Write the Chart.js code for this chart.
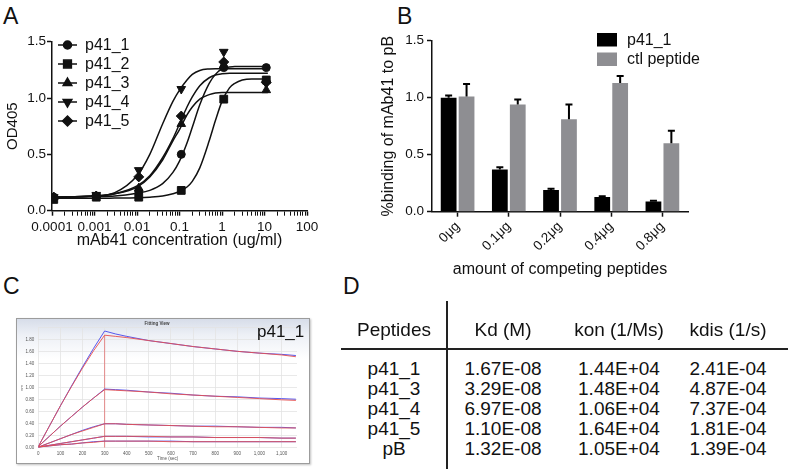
<!DOCTYPE html>
<html>
<head>
<meta charset="utf-8">
<script src="https://cdn.jsdelivr.net/npm/chart.js@4.4.0/dist/chart.umd.min.js"></script>
<style>
  html, body { margin: 0; padding: 0; background: #fff; }
  body { width: 791px; height: 470px; position: relative; overflow: hidden;
         font-family: 'Liberation Sans', Arial, Helvetica, sans-serif; color: #111; }
  canvas { position: absolute; }
  .panel { position: absolute; font-size: 23px; line-height: 23px; }
  #boxC { position: absolute; left: 16px; top: 318px; width: 292px; height: 144px;
          border: 1px solid #9c9c9c;
          background: linear-gradient(to bottom, #d7dde9 0px, #edf0f6 16px, #ffffff 40px);
          box-shadow: 1px 1px 2px rgba(0,0,0,0.25); }
  #tagC { position: absolute; left: 257px; top: 322px; font-size: 17px; line-height: 20px; }
  .cell { position: absolute; font-size: 19px; line-height: 20px; white-space: nowrap;
          transform: translate(-50%, -50%); }
  .rule { position: absolute; background: #222; }
</style>
</head>
<body>
<div class="panel" style="left:3px;top:5px">A</div>
<div class="panel" style="left:397px;top:5px">B</div>
<div class="panel" style="left:3px;top:275px">C</div>
<div class="panel" style="left:343px;top:275px">D</div>

<canvas id="chartA" width="340" height="260" style="left:0;top:0"></canvas>
<canvas id="chartB" width="334" height="290" style="left:376px;top:0"></canvas>
<div id="boxC"><canvas id="chartC" width="292" height="144" style="left:0;top:0"></canvas></div>
<div id="tagC">p41_1</div>
<div id="tableD"></div>

<script>
// ---------- panel A: ELISA titration ----------
const aConc = [0.00011, 0.0011, 0.011, 0.11, 1.1, 11];
const aNames = ['p41_1', 'p41_2', 'p41_3', 'p41_4', 'p41_5'];
const aPts1 = [0.12, 0.13, 0.17, 0.50, 1.27, 1.27];
const aPts2 = [0.10, 0.12, 0.12, 0.18, 0.99, 1.16];
const aPts3 = [0.12, 0.13, 0.20, 0.77, 1.29, 1.07];
const aPts4 = [0.12, 0.14, 0.36, 1.08, 1.41, 1.13];
const aPts5 = [0.12, 0.13, 0.30, 0.84, 1.32, 1.14];
// fitted curves
const aFitX = [0.0001, 0.001, 0.003, 0.01, 0.02, 0.04, 0.07, 0.1, 0.15, 0.2, 0.3, 0.5, 0.7, 1, 1.5, 2, 3, 5, 12];
const aFit1 = [0.12, 0.125, 0.13, 0.155, 0.18, 0.24, 0.34, 0.44, 0.60, 0.74, 0.94, 1.13, 1.21, 1.26, 1.275, 1.28, 1.28, 1.28, 1.28];
const aFit2 = [0.11, 0.11, 0.112, 0.115, 0.12, 0.13, 0.15, 0.17, 0.21, 0.26, 0.38, 0.62, 0.80, 0.97, 1.09, 1.13, 1.16, 1.17, 1.17];
const aFit3 = [0.12, 0.13, 0.15, 0.21, 0.30, 0.45, 0.62, 0.72, 0.85, 0.92, 0.99, 1.03, 1.045, 1.05, 1.05, 1.05, 1.05, 1.05, 1.05];
const aFit4 = [0.12, 0.13, 0.16, 0.31, 0.50, 0.77, 0.97, 1.07, 1.16, 1.21, 1.245, 1.258, 1.26, 1.26, 1.26, 1.26, 1.26, 1.26, 1.26];
const aFit5 = [0.12, 0.13, 0.15, 0.22, 0.31, 0.47, 0.64, 0.77, 0.92, 1.01, 1.11, 1.18, 1.205, 1.215, 1.22, 1.22, 1.22, 1.22, 1.22];
const aXMajor = [0.0001, 0.001, 0.01, 0.1, 1, 10, 100];
const aXLabels = ['0.0001', '0.001', '0.01', '0.1', '1', '10', '100'];
const aYLabels = ['0.0', '0.5', '1.0', '1.5'];

// ---------- panel B: competition ----------
const bCats = ['0\u03bcg', '0.1\u03bcg', '0.2\u03bcg', '0.4\u03bcg', '0.8\u03bcg'];
const bP41 = [1.00, 0.37, 0.19, 0.13, 0.09];
const bP41Err = [0.02, 0.02, 0.012, 0.006, 0.006];
const bCtl = [1.01, 0.94, 0.81, 1.13, 0.60];
const bCtlErr = [0.11, 0.045, 0.13, 0.06, 0.11];
const bYLabels = ['0.0', '0.5', '1.0', '1.5'];

// ---------- panel C: sensorgram ----------
const cTime = [0, 50, 100, 150, 200, 250, 300, 350, 400, 500, 600, 700, 800, 900, 1000, 1100, 1165];
const cData1 = [0.02, 0.36, 0.70, 1.03, 1.35, 1.66, 1.95, 1.90, 1.86, 1.79, 1.74, 1.69, 1.65, 1.61, 1.58, 1.56, 1.54];
const cFit1  = [0.02, 0.36, 0.70, 1.02, 1.33, 1.62, 1.88, 1.86, 1.84, 1.79, 1.74, 1.69, 1.65, 1.61, 1.58, 1.55, 1.52];
const cData2 = [0.02, 0.19, 0.36, 0.52, 0.68, 0.83, 0.98, 0.97, 0.96, 0.93, 0.91, 0.88, 0.86, 0.85, 0.83, 0.82, 0.81];
const cFit2  = [0.02, 0.19, 0.36, 0.52, 0.68, 0.83, 0.97, 0.96, 0.95, 0.93, 0.90, 0.88, 0.86, 0.84, 0.82, 0.80, 0.79];
const cData3 = [0.01, 0.08, 0.15, 0.22, 0.29, 0.35, 0.40, 0.40, 0.39, 0.38, 0.37, 0.36, 0.36, 0.35, 0.34, 0.34, 0.33];
const cFit3  = [0.01, 0.08, 0.15, 0.22, 0.28, 0.34, 0.40, 0.40, 0.39, 0.38, 0.37, 0.36, 0.35, 0.35, 0.34, 0.33, 0.33];
const cData4 = [0.01, 0.04, 0.07, 0.10, 0.13, 0.16, 0.19, 0.19, 0.19, 0.18, 0.18, 0.18, 0.17, 0.17, 0.17, 0.16, 0.16];
const cFit4  = [0.01, 0.04, 0.07, 0.10, 0.13, 0.16, 0.19, 0.19, 0.19, 0.19, 0.18, 0.18, 0.17, 0.17, 0.17, 0.16, 0.16];
const cData5 = [0.01, 0.03, 0.05, 0.06, 0.08, 0.10, 0.11, 0.11, 0.11, 0.11, 0.11, 0.10, 0.10, 0.10, 0.10, 0.10, 0.10];
const cFit5  = [0.01, 0.03, 0.05, 0.06, 0.08, 0.09, 0.11, 0.11, 0.11, 0.11, 0.10, 0.10, 0.10, 0.10, 0.10, 0.10, 0.10];
const cXTicks = [0, 100, 200, 300, 400, 500, 600, 700, 800, 900, 1000, 1100];
const cXLabels = ['0', '100', '200', '300', '400', '500', '600', '700', '800', '900', '1,000', '1,100'];
const cYTicks = [0, 0.2, 0.4, 0.6, 0.8, 1.0, 1.2, 1.4, 1.6, 1.8, 2.0];
const cYLabels = ['0.00', '0.20', '0.40', '0.60', '0.80', '1.00', '1.20', '1.40', '1.60', '1.80', ''];

// ---------- panel D: kinetics table ----------
const dHeaders = ['Peptides', 'Kd (M)', 'kon (1/Ms)', 'kdis (1/s)'];
const dPeptides = ['p41_1', 'p41_3', 'p41_4', 'p41_5', 'pB'];
const dKd = ['1.67E-08', '3.29E-08', '6.97E-08', '1.10E-08', '1.32E-08'];
const dKon = ['1.44E+04', '1.48E+04', '1.06E+04', '1.64E+04', '1.05E+04'];
const dKdis = ['2.41E-04', '4.87E-04', '7.37E-04', '1.81E-04', '1.39E-04'];

Chart.defaults.font.family = "'Liberation Sans', Arial, Helvetica, sans-serif";
Chart.defaults.color = '#111';
Chart.defaults.animation = false;
Chart.defaults.responsive = false;
Chart.defaults.plugins.legend.display = false;
Chart.defaults.plugins.tooltip.enabled = false;

const ink = '#111';
const fontStr = size => size + "px 'Liberation Sans', Arial, sans-serif";

// ===== A =====
const aStyles = [
  { style: 'circle', r: 4, rot: 0 },
  { style: 'rect', r: 5.5, rot: 0 },
  { style: 'triangle', r: 5, rot: 0 },
  { style: 'triangle', r: 5, rot: 180 },
  { style: 'rectRot', r: 5, rot: 0 }
];
const aPts = [aPts1, aPts2, aPts3, aPts4, aPts5];
const aFits = [aFit1, aFit2, aFit3, aFit4, aFit5];

const aMinor = [];
aXMajor.slice(0, -1).forEach(p => { for (let m = 2; m <= 9; m++) aMinor.push(p * m); });
const aAllTicks = aXMajor.concat(aMinor).sort((a, b) => a - b);

const aDatasets = [];
aFits.forEach(f => aDatasets.push({
  data: aFitX.map((x, i) => ({ x: x, y: f[i] })),
  borderColor: ink, borderWidth: 1.5, pointRadius: 0,
  cubicInterpolationMode: 'monotone', fill: false
}));
aPts.forEach((p, k) => aDatasets.push({
  data: aConc.map((x, i) => ({ x: x, y: p[i] })),
  showLine: false, pointStyle: aStyles[k].style, pointRadius: aStyles[k].r,
  pointRotation: aStyles[k].rot, pointBackgroundColor: ink, pointBorderColor: ink,
  pointBorderWidth: 1
}));

const legendA = {
  id: 'legendA',
  afterDraw(chart) {
    const ctx = chart.ctx;
    const left = chart.chartArea.left + 6;
    ctx.save();
    ctx.font = fontStr(16);
    ctx.textBaseline = 'middle';
    aNames.forEach((name, i) => {
      const y = 45 + i * 19;
      ctx.strokeStyle = ink; ctx.fillStyle = ink; ctx.lineWidth = 1.5;
      ctx.beginPath(); ctx.moveTo(left, y); ctx.lineTo(left + 19, y); ctx.stroke();
      Chart.helpers.drawPoint(ctx, { pointStyle: aStyles[i].style, radius: aStyles[i].r,
        rotation: aStyles[i].rot, borderWidth: 1 }, left + 9.5, y);
      ctx.fillText(name, left + 27, y + 1);
    });
    ctx.restore();
  }
};

new Chart(document.getElementById('chartA'), {
  type: 'line',
  data: { datasets: aDatasets },
  options: {
    layout: { padding: { left: 0, top: 41.7, right: 33, bottom: 9.4 } },
    scales: {
      x: {
        type: 'logarithmic', min: 0.0001, max: 100,
        afterFit: s => { s.height = 39.9; },
        afterBuildTicks: s => { s.ticks = aAllTicks.map(v => ({ value: v, major: aXMajor.includes(v) })); },
        ticks: {
          autoSkip: false, maxRotation: 0, minRotation: 0, padding: 3, color: ink,
          font: { size: 13.5 },
          callback: v => { const i = aXMajor.indexOf(v); return i >= 0 ? aXLabels[i] : ''; }
        },
        grid: { display: true, drawOnChartArea: false, drawTicks: true, tickLength: 5,
                tickColor: ink, tickWidth: c => (c.tick && c.tick.major) ? 1.5 : 1 },
        border: { display: true, color: ink, width: 1.5 },
        title: { display: true, text: 'mAb41 concentration (ug/ml)', font: { size: 16 }, padding: 0, color: ink }
      },
      y: {
        min: 0, max: 1.5,
        afterFit: s => { s.width = 52; },
        ticks: { stepSize: 0.5, padding: 1, color: ink, font: { size: 13.5 }, callback: (v, i) => aYLabels[i] },
        grid: { display: true, drawOnChartArea: false, drawTicks: true, tickLength: 5, tickColor: ink, tickWidth: 1.5 },
        border: { display: true, color: ink, width: 1.5 },
        title: { display: true, text: 'OD405', font: { size: 15 }, padding: { top: 4, bottom: 0 }, color: ink }
      }
    }
  },
  plugins: [legendA]
});

// ===== B =====
const errorBars = {
  id: 'errorBars',
  afterDatasetsDraw(chart) {
    const ctx = chart.ctx, yS = chart.scales.y;
    ctx.save();
    ctx.strokeStyle = '#000'; ctx.lineWidth = 2;
    chart.data.datasets.forEach((ds, di) => {
      chart.getDatasetMeta(di).data.forEach((bar, i) => {
        const top = yS.getPixelForValue(ds.data[i] + ds.errors[i]);
        ctx.beginPath();
        ctx.moveTo(bar.x, bar.y); ctx.lineTo(bar.x, top);
        ctx.moveTo(bar.x - 3.5, top); ctx.lineTo(bar.x + 3.5, top);
        ctx.stroke();
      });
    });
    ctx.restore();
  }
};

const legendB = {
  id: 'legendB',
  afterDraw(chart) {
    const ctx = chart.ctx;
    ctx.save();
    ctx.font = fontStr(16);
    ctx.textBaseline = 'middle';
    chart.data.datasets.forEach((ds, i) => {
      const y = 33 + i * 19.5;
      ctx.fillStyle = ds.backgroundColor;
      ctx.fillRect(221, y, 20, 13.5);
      ctx.fillStyle = ink;
      ctx.fillText(ds.label, 251, y + 7.5);
    });
    ctx.restore();
  }
};

new Chart(document.getElementById('chartB'), {
  type: 'bar',
  data: {
    labels: bCats,
    datasets: [
      { label: 'p41_1', data: bP41, errors: bP41Err, backgroundColor: '#000000' },
      { label: 'ctl peptide', data: bCtl, errors: bCtlErr, backgroundColor: '#8e8e92' }
    ]
  },
  options: {
    layout: { padding: { left: 0, top: 40.7, right: 22, bottom: 10.4 } },
    datasets: { bar: { categoryPercentage: 0.7, barPercentage: 0.88 } },
    scales: {
      x: {
        afterFit: s => { s.height = 67.9; },
        ticks: { maxRotation: 45, minRotation: 45, padding: 2, color: ink, font: { size: 13.5 } },
        grid: { display: true, offset: false, drawOnChartArea: false, drawTicks: true, tickLength: 5, tickColor: ink, tickWidth: 1.5 },
        border: { display: true, color: ink, width: 1.5 },
        title: { display: true, text: 'amount of competing peptides', font: { size: 16 }, padding: 0, color: ink }
      },
      y: {
        min: 0, max: 1.5,
        afterFit: s => { s.width = 56; },
        ticks: { stepSize: 0.5, padding: 3, color: ink, font: { size: 13.5 }, callback: (v, i) => bYLabels[i] },
        grid: { display: true, drawOnChartArea: false, drawTicks: true, tickLength: 5, tickColor: ink, tickWidth: 1.5 },
        border: { display: true, color: ink, width: 1.5 },
        title: { display: true, text: '%binding of mAb41 to pB', font: { size: 16 }, padding: { top: 3.4, bottom: 0 }, color: ink }
      }
    }
  },
  plugins: [errorBars, legendB]
});

// ===== C =====
const blue = 'rgba(70, 70, 235, 0.9)';
const red = 'rgba(230, 80, 80, 0.9)';
const cFits = [cFit1, cFit2, cFit3, cFit4, cFit5];
const cDatas = [cData1, cData2, cData3, cData4, cData5];
const cDatasets = [];
cFits.forEach(f => cDatasets.push({
  data: cTime.map((t, i) => ({ x: t, y: f[i] })),
  borderColor: red, borderWidth: 1, pointRadius: 0, tension: 0
}));
cDatas.forEach(d => cDatasets.push({
  data: cTime.map((t, i) => ({ x: t, y: d[i] })),
  borderColor: blue, borderWidth: 1, pointRadius: 0, tension: 0
}));
// injection end marker at the fitted peak
cDatasets.push({
  data: [{ x: cTime[6], y: 0 }, { x: cTime[6], y: cFit1[6] }],
  borderColor: 'rgba(225, 110, 110, 0.8)', borderWidth: 1, pointRadius: 0
});

const smallTick = { size: 4.5 };
new Chart(document.getElementById('chartC'), {
  type: 'line',
  data: { datasets: cDatasets },
  options: {
    layout: { padding: { left: 0, top: 0.6, right: 12, bottom: 1.5 } },
    plugins: {
      title: { display: true, text: 'Fitting View', font: smallTick, color: '#444', padding: { top: 1, bottom: 2 } }
    },
    scales: {
      x: {
        type: 'linear', min: 0, max: 1170,
        afterFit: s => { s.height = 13.8; },
        afterBuildTicks: s => { s.ticks = cXTicks.map(v => ({ value: v })); },
        ticks: { autoSkip: false, maxRotation: 0, padding: 3, color: '#555', font: smallTick,
                 callback: (v, i) => cXLabels[i] },
        grid: { color: '#e3e3e3', lineWidth: 0.8, drawTicks: false },
        border: { display: false },
        title: { display: true, text: 'Time (sec)', font: smallTick, color: '#555', padding: 0 }
      },
      y: {
        min: 0, max: 2.0,
        afterFit: s => { s.width = 21.3; },
        afterBuildTicks: s => { s.ticks = cYTicks.map(v => ({ value: v })); },
        ticks: { autoSkip: false, padding: 4, color: '#555', font: smallTick,
                 callback: (v, i) => cYLabels[i] },
        grid: { color: '#e3e3e3', lineWidth: 0.8, drawTicks: false },
        border: { display: false },
        title: { display: true, text: 'nm', font: { size: 4 }, color: '#555', padding: { top: 2, bottom: 0 } }
      }
    }
  }
});

// ===== D =====
const table = document.getElementById('tableD');
const colX = [394, 503, 619, 728];
function cell(text, x, y) {
  const el = document.createElement('div');
  el.className = 'cell';
  el.textContent = text;
  el.style.left = x + 'px';
  el.style.top = y + 'px';
  table.appendChild(el);
}
dHeaders.forEach((h, j) => cell(h, colX[j], 330));
dPeptides.forEach((p, i) => {
  const y = 368.5 + i * 20;
  [p, dKd[i], dKon[i], dKdis[i]].forEach((t, j) => cell(t, colX[j], y));
});
const hRule = document.createElement('div');
hRule.className = 'rule';
Object.assign(hRule.style, { left: '341px', top: '348px', width: '447px', height: '1.5px' });
table.appendChild(hRule);
const vRule = document.createElement('div');
vRule.className = 'rule';
Object.assign(vRule.style, { left: '446px', top: '301px', width: '1.5px', height: '168px' });
table.appendChild(vRule);
</script>
</body>
</html>
